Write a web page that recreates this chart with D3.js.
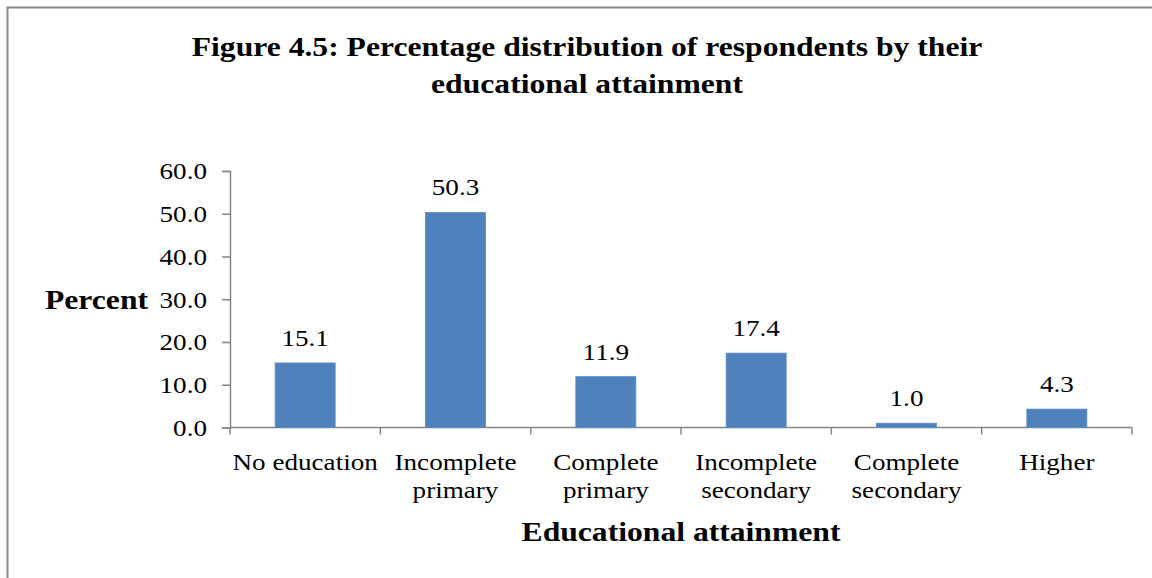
<!DOCTYPE html>
<html>
<head>
<meta charset="utf-8">
<script src="https://cdn.jsdelivr.net/npm/d3@7"></script>
<style>
  html, body { margin: 0; padding: 0; background: #fff; }
  svg { display: block; }
  text { font-family: "Liberation Serif", "Times New Roman", serif; fill: #000; }
</style>
</head>
<body>
<script>
// Educational attainment of respondents (percent)
const categories = [
  ["No education"],
  ["Incomplete", "primary"],
  ["Complete", "primary"],
  ["Incomplete", "secondary"],
  ["Complete", "secondary"],
  ["Higher"]
];
const values = [15.1, 50.3, 11.9, 17.4, 1.0, 4.3];
const yTicks = [0, 10, 20, 30, 40, 50, 60];
const titleLines = [
  "Figure 4.5: Percentage distribution of respondents by their",
  "educational attainment"
];
const yTitle = "Percent";
const xTitle = "Educational attainment";

const W = 1152, H = 578;
const plot = { left: 230, right: 1132, top: 171, bottom: 427.5 };
const SX = 1.13; // horizontal stretch applied to the serif text

const svg = d3.select("body").append("svg")
  .attr("width", W).attr("height", H);

// place a text node at (px, py) with the horizontal stretch
function placeText(sel, px, py) {
  sel.attr("x", 0).attr("y", 0)
    .attr("transform", function (d, i) {
      const X = typeof px === "function" ? px(d, i) : px;
      const Y = typeof py === "function" ? py(d, i) : py;
      return `translate(${X},${Y}) scale(${SX},1)`;
    });
  return sel;
}

// chart frame
svg.append("rect")
  .attr("x", 7.5).attr("y", 7.5)
  .attr("width", 1170).attr("height", 600)
  .attr("fill", "#fff")
  .attr("stroke", "#898989").attr("stroke-width", 2);

const keys = categories.map((c, i) => i);
const x = d3.scaleBand().domain(keys).range([plot.left, plot.right]).paddingInner(0).paddingOuter(0);
const y = d3.scaleLinear().domain([0, 60]).range([plot.bottom, plot.top]);

// title
svg.append("g").selectAll("text").data(titleLines).join("text")
  .attr("text-anchor", "middle")
  .attr("font-weight", "bold")
  .attr("font-size", 28)
  .text(d => d)
  .call(placeText, 587, (d, i) => 56 + i * 37);

// y axis
const yAxis = svg.append("g")
  .attr("transform", `translate(${plot.left},0)`)
  .call(d3.axisLeft(y).tickValues(yTicks).tickFormat(d3.format(".1f")).tickSize(8).tickPadding(15));
yAxis.select(".domain").attr("stroke", "#868686").attr("stroke-width", 1.5);
yAxis.selectAll(".tick line").attr("stroke", "#868686").attr("stroke-width", 1.5);
yAxis.selectAll(".tick text")
  .attr("font-family", "Liberation Serif, Times New Roman, serif")
  .attr("font-size", 24).attr("fill", "#000")
  .attr("dy", null)
  .attr("dominant-baseline", "central")
  .call(placeText, -23, 0);

// x axis with boundary ticks between categories
const xg = svg.append("g");
xg.append("line")
  .attr("x1", plot.left).attr("x2", plot.right)
  .attr("y1", plot.bottom).attr("y2", plot.bottom)
  .attr("stroke", "#868686").attr("stroke-width", 1.5);
const bounds = keys.map(k => x(k)).concat([x(keys[keys.length - 1]) + x.bandwidth()]);
xg.selectAll("line.tk").data(bounds).join("line")
  .attr("class", "tk")
  .attr("x1", d => d).attr("x2", d => d)
  .attr("y1", plot.bottom).attr("y2", plot.bottom + 7)
  .attr("stroke", "#868686").attr("stroke-width", 1.5);

// category labels
const catLines = categories.flatMap((c, i) => c.map((s, j) => ({ s, i, j })));
svg.append("g").selectAll("text").data(catLines).join("text")
  .attr("text-anchor", "middle")
  .attr("font-size", 24)
  .text(d => d.s)
  .call(placeText, d => x(d.i) + x.bandwidth() / 2, d => 470 + d.j * 28);

// bars
const barW = 60;
svg.append("g").selectAll("rect").data(values).join("rect")
  .attr("x", (d, i) => x(i) + x.bandwidth() / 2 - barW / 2)
  .attr("y", d => y(d))
  .attr("width", barW)
  .attr("height", d => y(0) - y(d))
  .attr("fill", "#4F81BD")
  .attr("stroke", "#5B8CC6").attr("stroke-width", 0.8);

// value labels
svg.append("g").selectAll("text").data(values).join("text")
  .attr("text-anchor", "middle")
  .attr("font-size", 24)
  .text(d => d3.format(".1f")(d))
  .call(placeText, (d, i) => x(i) + x.bandwidth() / 2, d => y(d) - 17);

// axis titles
svg.append("text")
  .attr("text-anchor", "end")
  .attr("font-weight", "bold")
  .attr("font-size", 28)
  .text(yTitle)
  .call(placeText, 148, 309);

svg.append("text")
  .attr("text-anchor", "middle")
  .attr("font-weight", "bold")
  .attr("font-size", 28)
  .text(xTitle)
  .call(placeText, (plot.left + plot.right) / 2, 541);
</script>
</body>
</html>
